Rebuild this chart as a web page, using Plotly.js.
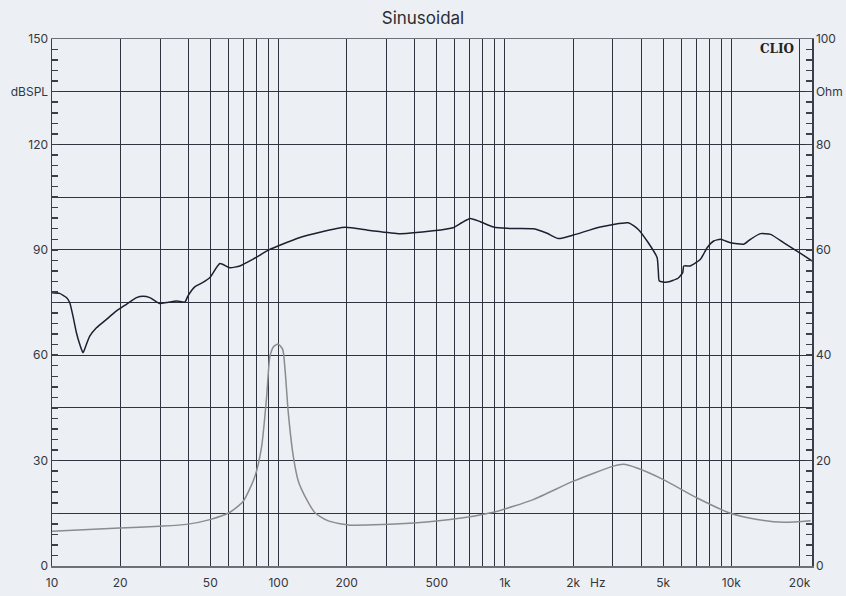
<!DOCTYPE html>
<html>
<head>
<meta charset="utf-8">
<script src="https://cdn.plot.ly/plotly-3.0.1.min.js"></script>
<style>html,body{margin:0;padding:0;background:#eceff4;}#chart{width:846px;height:596px;}</style>
</head>
<body>
<div id="chart"></div>
<script>
// SPL response (dBSPL, left axis)
const splFreq = [10, 10.8, 11.58, 11.97, 12.38, 12.82, 13.26, 13.71, 14.19, 14.68, 15.71, 17.40, 19.27, 21.33, 23.61, 25.24, 27.04, 29.9, 32.1, 35.6, 38.6, 39.8, 42.8, 46.4, 49.8, 55.1, 61.0, 67.6, 77.1, 91.6, 101.4, 124.4, 152.6, 196.8, 254, 344, 482, 591, 644, 703, 778, 891, 1021, 1340, 1535, 1722, 2005, 2636, 3505, 3881, 4296, 4698, 4757, 4806, 5200, 5815, 6095, 6162, 6592, 7302, 7816, 8358, 8953, 9908, 11350, 12140, 13450, 14890, 17060, 20190, 22750];
const splDb = [77.8, 77.6, 76.4, 75.0, 71.1, 66.4, 63.1, 60.7, 63.1, 65.4, 67.8, 70.2, 72.6, 74.5, 76.4, 76.8, 76.4, 74.7, 75.0, 75.4, 75.1, 76.8, 79.5, 80.7, 82.1, 86.1, 84.9, 85.4, 87.3, 90.1, 91.3, 93.5, 95.0, 96.4, 95.5, 94.6, 95.4, 96.3, 97.7, 98.9, 98.0, 96.5, 96.1, 96.0, 94.7, 93.2, 94.2, 96.5, 97.7, 95.8, 92.0, 87.8, 84.0, 81.1, 80.8, 81.9, 83.5, 85.4, 85.4, 87.3, 90.6, 92.5, 93.0, 92.0, 91.6, 93.0, 94.6, 94.4, 92.0, 89.0, 86.8];

// Impedance (Ohm, right axis)
const impFreq = [10, 19.9, 29.9, 39.3, 49.8, 61.0, 69.9, 78.7, 84.3, 88.7, 91.7, 95.5, 99.8, 104.4, 106.9, 110.5, 116.3, 122.4, 133.3, 145, 163.2, 187, 207, 344, 573, 888, 1334, 2005, 3014, 3337, 3831, 5010, 7065, 9908, 13000, 17060, 22380];
const impOhm = [6.6, 7.2, 7.55, 7.9, 8.8, 10.2, 12.3, 17.0, 22.7, 32.2, 39.8, 41.7, 42.1, 41.1, 37.3, 29.1, 20.8, 16.1, 12.6, 10.1, 8.7, 8.0, 7.75, 8.0, 8.83, 10.2, 12.6, 16.1, 18.95, 19.3, 18.6, 16.4, 12.9, 10.0, 8.83, 8.3, 8.6];

// Axis ticks
const xGridVals = [10,20,30,40,50,60,70,80,90,100,200,300,400,500,600,700,800,900,1000,2000,3000,4000,5000,6000,7000,8000,9000,10000,20000];
const xLabelMap = {10:'10',20:'20',50:'50',100:'100',200:'200',500:'500',1000:'1k',2000:'2k',5000:'5k',10000:'10k',20000:'20k'};
const yLeftAlias = {'15':' ','45':' ','75':' ','105':' ','135':'dBSPL'};
const yRightAlias = {'10':' ','30':' ','50':' ','70':' ','90':'Ohm'};

const bg = '#eceff4';
const gridCol = '#2e333d';
const txtCol = '#333740';
const tickCol = '#3a3f4a';
const fontFam = 'Inter, "Noto Sans", sans-serif';

const traces = [
  {x: splFreq, y: splDb, type: 'scatter', mode: 'lines', yaxis: 'y',
   line: {color: '#1c2030', width: 1.5, shape: 'spline', smoothing: 0.5}, hoverinfo: 'skip'},
  {x: impFreq, y: impOhm, type: 'scatter', mode: 'lines', yaxis: 'y2',
   line: {color: '#8a8c8f', width: 1.5, shape: 'spline', smoothing: 0.6}, hoverinfo: 'skip'}
];

const layout = {
  width: 846, height: 596,
  paper_bgcolor: bg, plot_bgcolor: bg,
  margin: {l: 52, r: 34, t: 39, b: 30},
  showlegend: false,
  font: {family: fontFam, color: txtCol, size: 12},
  title: {text: 'Sinusoidal', x: 0.5, xanchor: 'center', y: 0.97, yanchor: 'middle', yref: 'container',
          font: {family: fontFam, size: 17, color: '#2a2d33'}},
  xaxis: {
    type: 'log', range: [1, 4.356],
    tickmode: 'array', tickvals: xGridVals,
    ticktext: xGridVals.map(v => xLabelMap[v] || ''),
    ticks: 'outside', ticklen: 5, tickcolor: 'rgba(0,0,0,0)',
    showgrid: true, gridcolor: gridCol, gridwidth: 1,
    showline: true, linecolor: '#6c7079', linewidth: 1.5, mirror: true,
    zeroline: false, tickfont: {size: 12, color: txtCol}
  },
  yaxis: {
    range: [0, 150], dtick: 15, labelalias: yLeftAlias,
    ticks: 'inside', ticklen: 6, tickwidth: 1.5, tickcolor: tickCol,
    showgrid: true, gridcolor: gridCol, gridwidth: 1,
    showline: true, linecolor: tickCol, linewidth: 1.5, zeroline: false,
    minor: {dtick: 3, ticks: 'inside', ticklen: 6, tickcolor: tickCol, tickwidth: 1.5},
    tickfont: {size: 12, color: txtCol}
  },
  yaxis2: {
    range: [0, 100], overlaying: 'y', side: 'right', dtick: 10, labelalias: yRightAlias,
    ticks: 'inside', ticklen: 6, tickwidth: 1.5, tickcolor: tickCol,
    showgrid: false, showline: true, linecolor: tickCol, linewidth: 1.5, zeroline: false,
    minor: {dtick: 2, ticks: 'inside', ticklen: 6, tickcolor: tickCol, tickwidth: 1.5},
    tickfont: {size: 12, color: txtCol}
  },
  annotations: [
    {text: '<b>CLIO</b>', xref: 'paper', yref: 'paper', x: 0.954, y: 0.981, xanchor: 'center', yanchor: 'middle',
     showarrow: false, font: {family: '"DejaVu Serif", "Liberation Serif", serif', size: 12, color: '#222'}},
    {text: 'Hz', xref: 'paper', yref: 'paper', x: 0.718, y: -0.031, xanchor: 'center', yanchor: 'middle',
     showarrow: false, font: {family: fontFam, size: 12, color: txtCol}}
  ]
};

Plotly.newPlot('chart', traces, layout, {displayModeBar: false, staticPlot: true});
</script>
</body>
</html>
